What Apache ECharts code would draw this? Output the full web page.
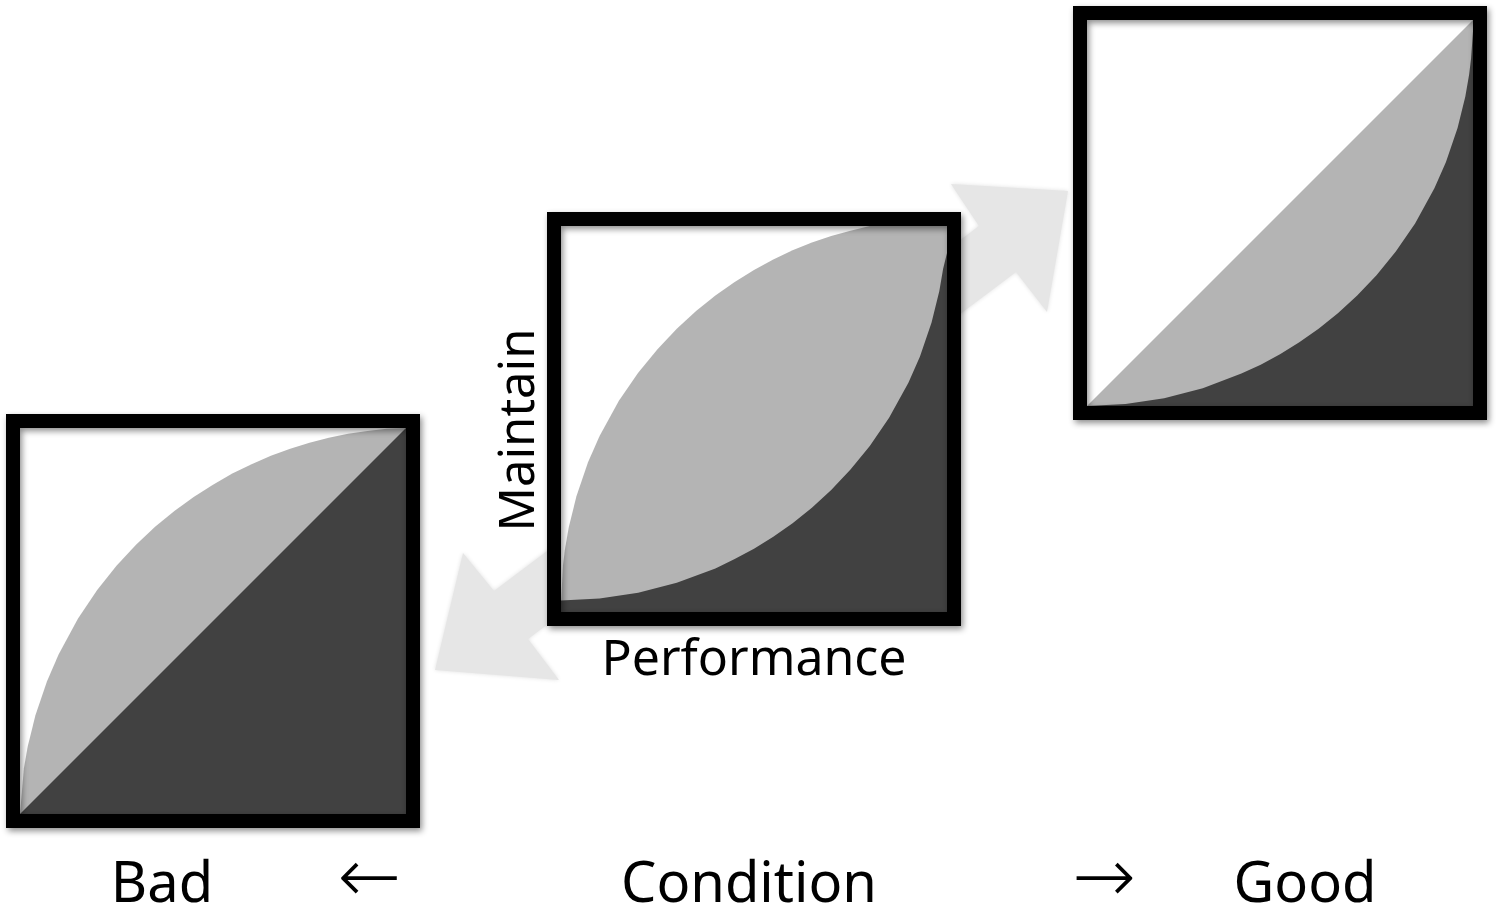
<!DOCTYPE html>
<html>
<head>
<meta charset="utf-8">
<script src="https://cdn.jsdelivr.net/npm/echarts@6/dist/echarts.min.js"></script>
<style>
  html, body { margin: 0; padding: 0; background: #fff; }
  #main { width: 1499px; height: 911px; }
</style>
</head>
<body>
<div id="main"></div>
<script>
// boundary points, [performance, maintain], both 0..1
var diagonal = [[0, 0], [1, 1]];
var badUpper = [[0, 0], [0.01, 0.118], [0.02, 0.175], [0.04, 0.256], [0.07, 0.344], [0.1, 0.413], [0.15, 0.506],
  [0.2, 0.58], [0.25, 0.643], [0.3, 0.697], [0.35, 0.744], [0.4, 0.785], [0.45, 0.821], [0.5, 0.853],
  [0.55, 0.882], [0.6, 0.906], [0.65, 0.928], [0.7, 0.946], [0.75, 0.962], [0.8, 0.975], [0.85, 0.985],
  [0.9, 0.992], [0.95, 0.998], [1, 1]];
var midUpper = [[0, 0.02], [0.005, 0.12], [0.01, 0.161], [0.02, 0.219], [0.04, 0.3], [0.07, 0.388], [0.1, 0.456],
  [0.15, 0.547], [0.2, 0.62], [0.25, 0.681], [0.3, 0.734], [0.35, 0.78], [0.4, 0.82], [0.45, 0.855],
  [0.5, 0.886], [0.55, 0.913], [0.6, 0.937], [0.65, 0.957], [0.7, 0.974], [0.75, 0.988], [0.8, 1], [1, 1]];
var midLower = [[0, 0.03], [0.1, 0.035], [0.2, 0.05], [0.3, 0.076], [0.4, 0.113], [0.45, 0.137], [0.5, 0.164],
  [0.55, 0.195], [0.6, 0.23], [0.65, 0.27], [0.7, 0.316], [0.75, 0.369], [0.8, 0.43], [0.85, 0.503],
  [0.9, 0.594], [0.93, 0.662], [0.96, 0.75], [0.98, 0.831], [0.99, 0.889], [1, 0.93]];
var goodLower = [[0, 0], [0.1, 0.005], [0.2, 0.02], [0.3, 0.046], [0.4, 0.084], [0.45, 0.107], [0.5, 0.134],
  [0.55, 0.165], [0.6, 0.2], [0.65, 0.24], [0.7, 0.286], [0.75, 0.339], [0.8, 0.4], [0.85, 0.473],
  [0.9, 0.564], [0.93, 0.632], [0.96, 0.72], [0.98, 0.801], [0.99, 0.859], [0.995, 0.9], [1, 0.97]];

var bottomLabels = ['Bad', '←', 'Condition', '→', 'Good'];
var axisNames = ['Performance', 'Maintain'];

var LIGHT = '#b4b4b4';
var DARK = '#414141';
var SIDE = 386;

// inner plot boxes of the three panels (bad, middle, good)
var boxes = [
  { left: 20, top: 428 },
  { left: 561, top: 226 },
  { left: 1087, top: 20 }
];

var chart = echarts.init(document.getElementById('main'));

function area(idx, data, color) {
  return {
    type: 'line',
    xAxisIndex: idx,
    yAxisIndex: idx,
    data: data,
    showSymbol: false,
    silent: true,
    lineStyle: { width: 0 },
    areaStyle: { color: color, opacity: 1 },
    z: 3
  };
}

var grids = boxes.map(function (b) {
  return {
    left: b.left, top: b.top, width: SIDE, height: SIDE,
    show: true, backgroundColor: '#fff', borderWidth: 0, z: 1
  };
});
var xAxes = boxes.map(function (b, i) {
  return { type: 'value', gridIndex: i, min: 0, max: 1, show: false };
});
var yAxes = boxes.map(function (b, i) {
  return { type: 'value', gridIndex: i, min: 0, max: 1, show: false };
});

var frames = boxes.map(function (b) {
  return {
    type: 'rect',
    z: 20,
    silent: true,
    shape: { x: b.left - 7, y: b.top - 7, width: SIDE + 14, height: SIDE + 14 },
    style: {
      fill: 'none', stroke: '#000', lineWidth: 14,
      shadowBlur: 6, shadowOffsetX: 2, shadowOffsetY: 3, shadowColor: 'rgba(0,0,0,0.45)'
    }
  };
});

var textFont = '"Noto Sans", "DejaVu Sans", sans-serif';
var bottomX = [162, 369, 749, 1104, 1305];
var texts = bottomLabels.map(function (t, i) {
  var isArrow = (i === 1 || i === 3);
  return {
    type: 'text', z: 20, silent: true,
    x: bottomX[i], y: isArrow ? 882 : 886,
    style: {
      text: t, fill: '#000',
      font: (isArrow ? '200 76px "DejaVu Sans", sans-serif' : '56px ' + textFont),
      textAlign: 'center', textVerticalAlign: 'middle'
    }
  };
});
texts.push({
  type: 'text', z: 20, silent: true, x: 754, y: 661,
  style: { text: axisNames[0], fill: '#000', font: '50px ' + textFont, textAlign: 'center', textVerticalAlign: 'middle' }
});
texts.push({
  type: 'text', z: 20, silent: true, x: 520, y: 430, rotation: Math.PI / 2,
  style: { text: axisNames[1], fill: '#000', font: '49px ' + textFont, textAlign: 'center', textVerticalAlign: 'middle' }
});

// big pale double arrow behind the middle panel
var arrow = {
  type: 'polygon', z: 0, silent: true,
  shape: {
    points: [
      [1068, 191], [1047, 312], [1016, 272], [528, 639], [559, 680],
      [435, 670], [463, 553], [494, 591], [979, 226], [951, 184]
    ]
  },
  style: { fill: '#e6e6e6', shadowBlur: 4, shadowColor: 'rgba(0,0,0,0.12)' }
};

chart.setOption({
  animation: false,
  backgroundColor: '#fff',
  grid: grids,
  xAxis: xAxes,
  yAxis: yAxes,
  series: [
    area(0, badUpper, LIGHT),
    area(0, diagonal, DARK),
    area(1, midUpper, LIGHT),
    area(1, midLower, DARK),
    area(2, diagonal, LIGHT),
    area(2, goodLower, DARK)
  ],
  graphic: [arrow].concat(frames, texts)
});
</script>
</body>
</html>
